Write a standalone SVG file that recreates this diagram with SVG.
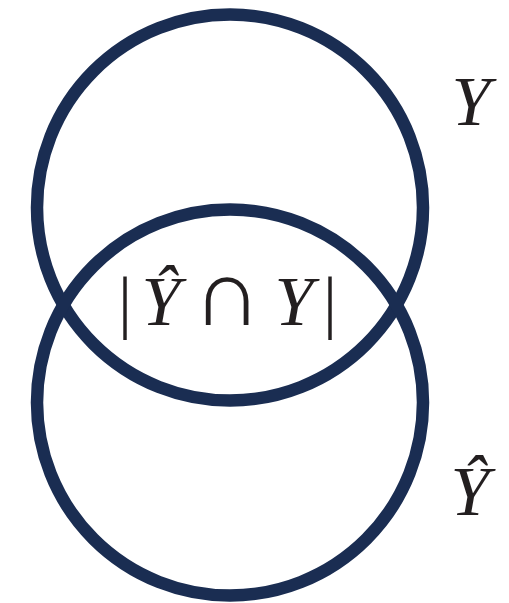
<svg xmlns="http://www.w3.org/2000/svg" width="509" height="603" viewBox="0 0 509 603">
<style>
.c{fill:none;stroke:#1a2d52;stroke-width:12.5}
.t{font-family:"Liberation Serif","DejaVu Serif",serif;font-size:70px;fill:#231f20;text-anchor:middle}
.i{font-style:italic}
</style>
<rect width="509" height="603" fill="#fff"/>
<g id="circle-Y"><circle class="c" cx="230" cy="207.5" r="193"/></g>
<g id="circle-Yhat"><circle class="c" cx="230" cy="402.5" r="193"/></g>
<g id="label-Y"><text class="t i" x="471" y="125">Y</text></g>
<g id="label-Yhat"><text class="t i" x="470" y="515">Ŷ</text></g>
<g id="label-intersection">
<text class="t" x="125" y="325">|</text>
<text class="t i" x="161" y="325">Ŷ</text>
<text class="t" x="227" y="325" style="font-size:95px">∩</text>
<text class="t i" x="294" y="325">Y</text>
<text class="t" x="330" y="325">|</text>
</g>
</svg>
